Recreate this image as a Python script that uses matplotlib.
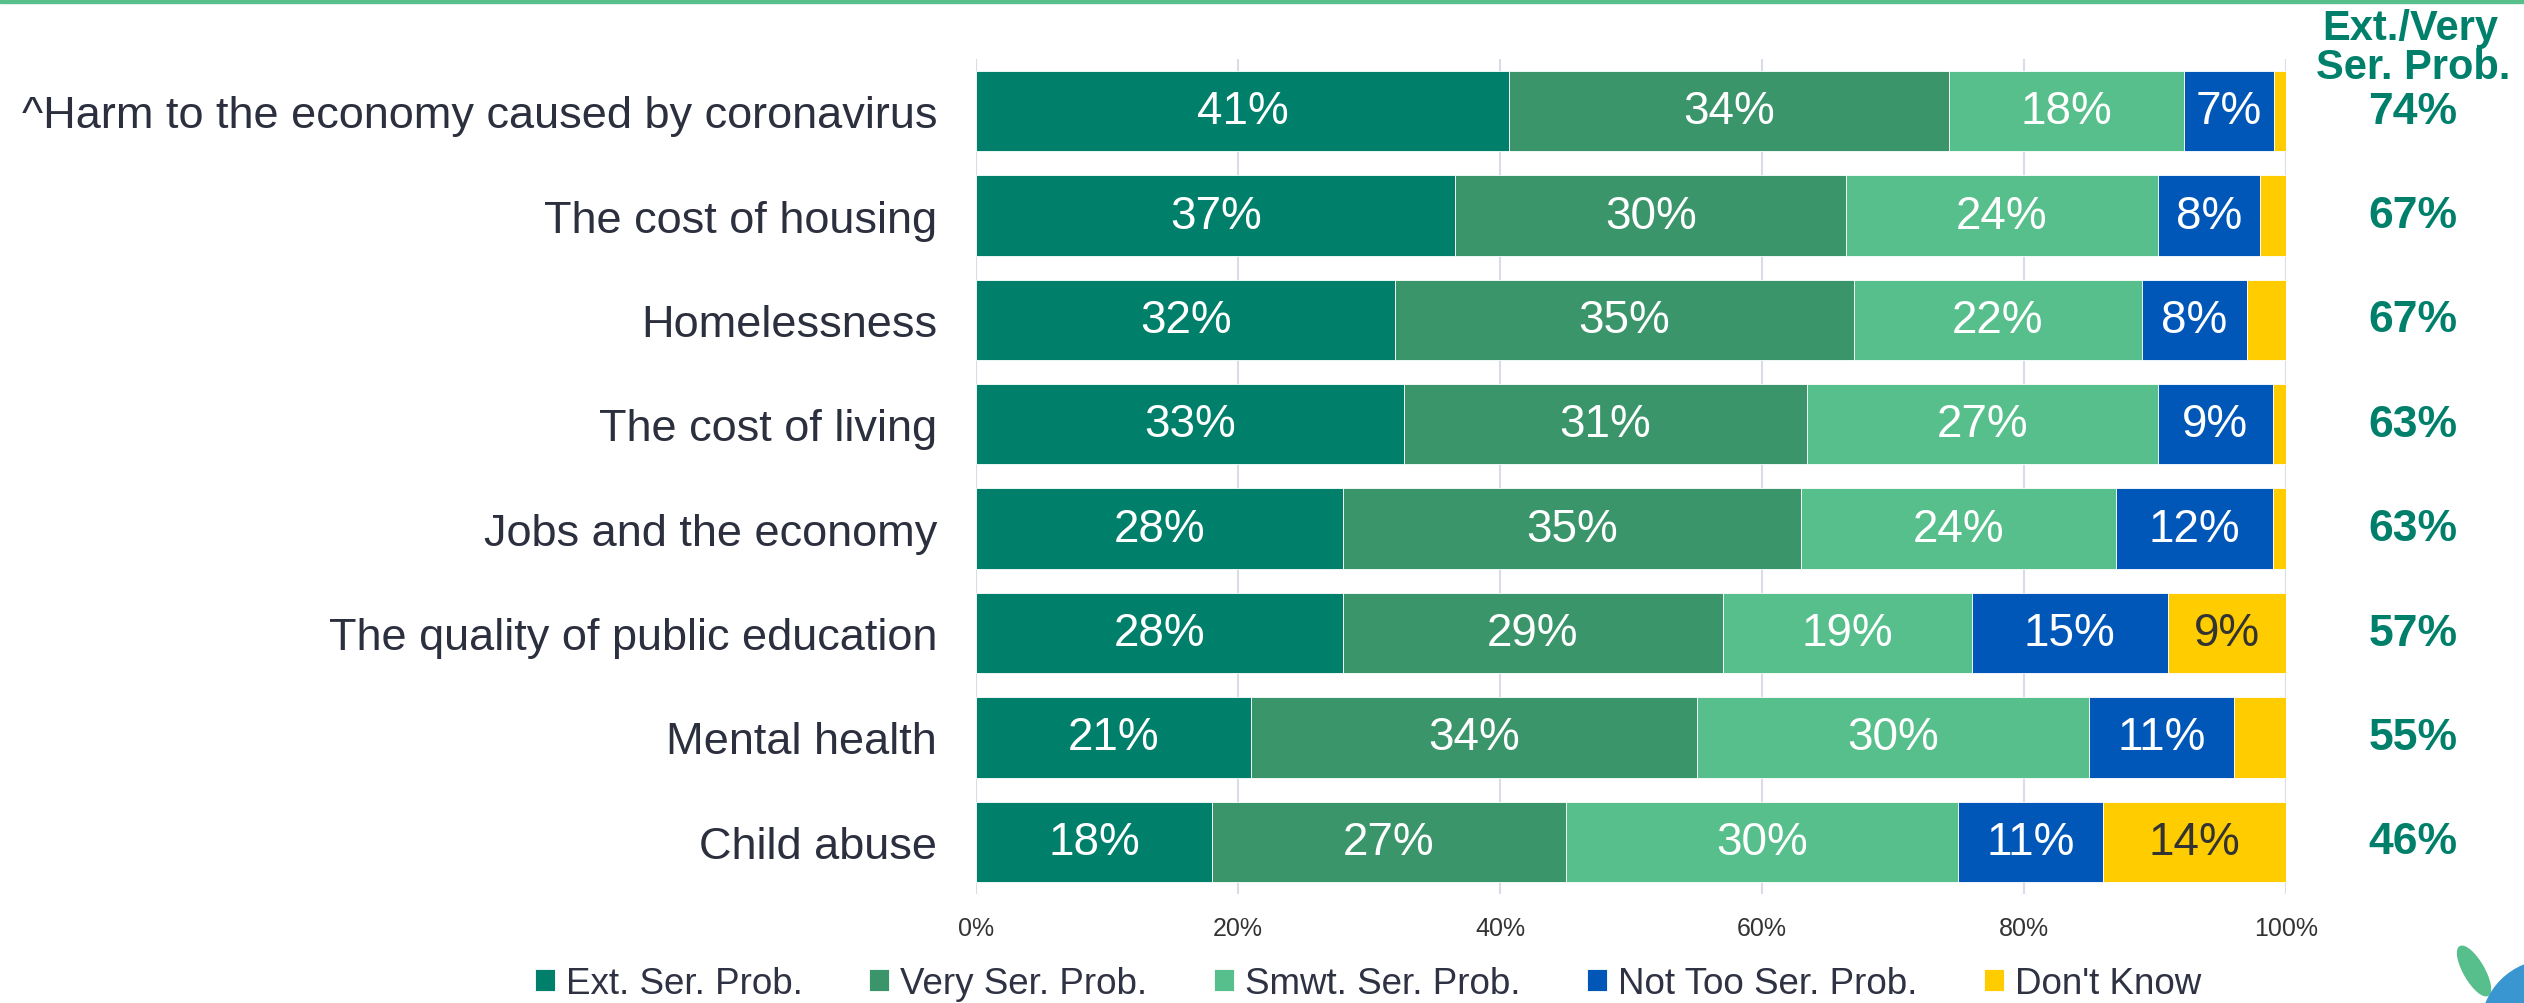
import numpy as np
import matplotlib.pyplot as plt
from matplotlib.patches import Rectangle, Ellipse, Circle

plt.rcParams['font.family'] = ['Liberation Sans', 'DejaVu Sans']

categories = [
    "^Harm to the economy caused by coronavirus",
    "The cost of housing",
    "Homelessness",
    "The cost of living",
    "Jobs and the economy",
    "The quality of public education",
    "Mental health",
    "Child abuse",
]
ext_serious = [40.7, 36.6, 32.0, 32.7, 28.0, 28.0, 21.0, 18.0]
very_serious = [33.6, 29.8, 35.0, 30.7, 35.0, 29.0, 34.0, 27.0]
smwt_serious = [17.9, 23.8, 22.0, 26.8, 24.0, 19.0, 30.0, 30.0]
not_too_serious = [6.9, 7.8, 8.0, 8.8, 12.0, 15.0, 11.0, 11.0]
dont_know = [0.9, 2.0, 3.0, 1.0, 1.0, 9.0, 4.0, 14.0]
ext_very_total = [74, 67, 67, 63, 63, 57, 55, 46]

series_names = ["Ext. Ser. Prob.", "Very Ser. Prob.", "Smwt. Ser. Prob.",
                "Not Too Ser. Prob.", "Don't Know"]
colors = ["#00806b", "#3b956a", "#57bf8b", "#0057b8", "#ffcc00"]
xticks = [0, 20, 40, 60, 80, 100]

series = [ext_serious, very_serious, smwt_serious, not_too_serious, dont_know]
green = "#00806b"

fig = plt.figure(figsize=(25.24, 10.04), dpi=100)
ax = fig.add_axes([0.3867, 0.1086, 0.5190, 0.8317])

y = np.arange(len(categories))
left = np.zeros(len(categories))
for vals, name, col in zip(series, series_names, colors):
    vals = np.array(vals)
    ax.barh(y, vals, left=left, height=0.77, color=col, edgecolor='white',
            linewidth=0.6, label=name, zorder=2)
    txt_col = '#333333' if col == "#ffcc00" else 'white'
    for yi, v, l in zip(y, vals, left):
        if v >= 5:
            ax.text(l + v / 2, yi, f"{v:.0f}%", ha='center', va='center',
                    fontsize=33, color=txt_col, zorder=3)
    left += vals

ax.set_xlim(0, 100)
ax.set_ylim(len(categories) - 0.5, -0.5)
ax.set_xticks(xticks, [f"{t}%" for t in xticks])
ax.set_yticks(y, categories)
ax.tick_params(axis='x', length=0, pad=16, labelsize=18, labelcolor='#333333')
ax.tick_params(axis='y', length=0, pad=28, labelsize=32.5, labelcolor='#2b2f3e')
ax.grid(axis='x', color='#d9dce6', linewidth=1.5, zorder=0)
ax.set_axisbelow(True)
for s in ax.spines.values():
    s.set_visible(False)

# Ext./Very column on the right
for yi, t in zip(y, ext_very_total):
    ax.text(1.097, yi, f"{t}%", transform=ax.get_yaxis_transform(),
            ha='center', va='center', fontsize=32, fontweight='bold', color=green)
fig.text(2410 / 2524, 1 - 40 / 1004, "Ext./Very", ha='center', va='baseline',
         fontsize=30, fontweight='bold', color=green)
fig.text(2413 / 2524, 1 - 79 / 1004, "Ser. Prob.", ha='center', va='baseline',
         fontsize=30, fontweight='bold', color=green)

fig.legend(loc='center', bbox_to_anchor=(0.542, 0.019), ncol=5, frameon=False,
           fontsize=26.5, handlelength=0.55, handleheight=0.55, handletextpad=0.3,
           columnspacing=1.8, labelcolor='#2e3243')

# green rule at the top
fig.add_artist(Rectangle((0, 1 - 4 / 1004), 1, 4 / 1004, transform=fig.transFigure,
                         color="#57bf8b"))

# logo fragment bottom right
deco = fig.add_axes([0, 0, 1, 1])
deco.set_xlim(0, 2524)
deco.set_ylim(0, 1004)
deco.axis('off')
deco.patch.set_alpha(0)
deco.add_patch(Ellipse((2474, 1004 - 972), 56, 20, angle=-60, color="#57bf8b"))
deco.add_patch(Circle((2550, 1004 - 1030), 69, color="#3a96d0"))

fig.savefig('out.png', dpi=100)
